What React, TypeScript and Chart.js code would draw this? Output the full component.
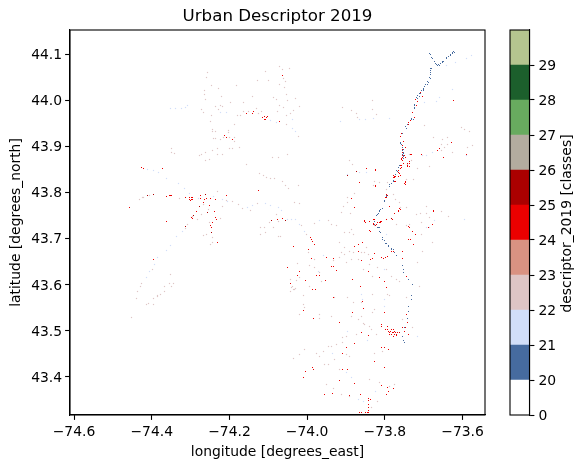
import React, { useEffect, useRef } from "react";
import { Chart, registerables } from "chart.js";
Chart.register(...registerables);

type P = [number, number];
const FONT = "'DejaVu Sans'";
const titleText = "Urban Descriptor 2019";
const xLabel = "longitude [degrees_east]";
const yLabel = "latitude [degrees_north]";
const cbLabel = "descriptor_2019 [classes]";
const lonTicks = [-74.6, -74.4, -74.2, -74.0, -73.8, -73.6];
const latTicks = [43.4, 43.5, 43.6, 43.7, 43.8, 43.9, 44.0, 44.1];
const lonRange = [-74.6103, -73.5423];
const latRange = [43.3165, 44.1523];
const classLabels = ["0", "20", "21", "22", "23", "24", "25", "26", "27", "28", "29"];
const classColors = ["#ffffff", "#466b9f", "#d1def8", "#dec5c5", "#d99282", "#eb0000", "#ab0000", "#b3ac9f", "#68ab5f", "#1c5f2c", "#b5c58f"];

const class20: P[] = [[-73.623,44.106],[-73.627,44.103],[-73.631,44.100],[-73.636,44.095],[-73.642,44.092],[-73.652,44.085],[-73.657,44.080],[-73.663,44.078],[-73.668,44.078],[-73.671,44.083],[-73.679,44.093],[-73.684,44.101],[-73.683,44.069],[-73.683,44.060],[-73.685,44.049],[-73.690,44.041],[-73.695,44.035],[-73.701,44.025],[-73.705,44.020],[-73.711,44.014],[-73.715,44.011],[-73.718,44.006],[-73.724,43.991],[-73.725,43.983],[-73.731,43.960],[-73.741,43.948],[-73.746,43.942],[-73.760,43.908],[-73.754,43.897],[-73.754,43.890],[-73.754,43.882],[-73.754,43.875],[-73.762,43.859],[-73.766,43.853],[-73.771,43.848],[-73.779,43.824],[-73.783,43.819],[-73.789,43.812],[-73.797,43.792],[-73.801,43.782],[-73.812,43.763],[-73.815,43.758],[-73.819,43.752],[-73.815,43.723],[-73.826,43.730],[-73.818,43.723],[-73.812,43.712],[-73.805,43.698],[-73.798,43.689],[-73.791,43.682],[-73.784,43.675],[-73.775,43.669],[-73.769,43.663],[-73.755,43.642],[-73.751,43.633],[-73.751,43.625],[-73.738,43.611],[-73.730,43.600],[-73.731,43.576],[-73.731,43.567],[-73.738,43.551],[-73.739,43.542],[-73.743,43.527],[-73.743,43.517],[-73.749,43.506],[-73.755,43.488],[-73.752,43.479],[-73.749,43.474],[-73.682,44.099],[-73.678,44.090],[-73.669,44.080],[-73.665,44.076],[-73.660,44.076],[-73.652,44.082],[-73.650,44.085],[-73.641,44.090],[-73.631,44.098],[-73.626,44.101],[-73.621,44.104],[-73.680,44.069],[-73.682,44.065],[-73.682,44.056],[-73.682,44.047],[-73.687,44.038],[-73.690,44.035],[-73.697,44.029],[-73.701,44.024],[-73.701,44.020],[-73.708,44.014],[-73.712,44.009],[-73.716,44.004],[-73.724,43.989],[-73.724,43.982],[-73.732,43.957],[-73.727,43.959],[-73.744,43.939],[-73.754,43.927],[-73.760,43.906],[-73.757,43.904],[-73.753,43.892],[-73.753,43.887],[-73.753,43.884],[-73.753,43.880],[-73.753,43.877],[-73.753,43.873],[-73.767,43.845],[-73.772,43.839],[-73.777,43.826],[-73.783,43.819],[-73.787,43.816],[-73.797,43.790],[-73.800,43.779],[-73.806,43.765],[-73.813,43.760],[-73.817,43.754],[-73.821,43.749],[-73.826,43.736],[-73.821,43.729],[-73.817,43.723],[-73.813,43.714],[-73.806,43.702],[-73.800,43.695],[-73.796,43.689],[-73.790,43.684],[-73.783,43.678],[-73.777,43.675]];

const class21: P[] = [[-73.914,43.954],[-73.865,43.959],[-73.849,43.958],[-73.830,43.960],[-73.788,43.961],[-73.698,43.995],[-73.668,43.997],[-73.617,44.082],[-73.642,44.075],[-73.577,44.098],[-73.589,44.091],[-73.625,44.024],[-73.659,44.006],[-73.692,43.879],[-73.702,43.880],[-73.677,43.886],[-73.591,43.880],[-73.865,43.844],[-73.848,43.843],[-73.895,43.839],[-73.595,43.741],[-73.692,43.723],[-74.313,43.985],[-74.308,43.988],[-74.352,43.982],[-74.339,43.982],[-74.324,43.982],[-74.224,43.973],[-74.208,43.973],[-74.095,43.956],[-74.080,43.952],[-74.037,43.957],[-74.037,43.938],[-74.030,43.932],[-74.412,43.850],[-74.395,43.847],[-74.382,43.843],[-74.361,43.830],[-74.331,43.819],[-74.315,43.808],[-74.302,43.797],[-74.279,43.786],[-74.241,43.790],[-74.219,43.784],[-74.205,43.779],[-74.154,43.767],[-74.140,43.772],[-74.106,43.775],[-74.095,43.771],[-74.074,43.767],[-74.066,43.761],[-74.051,43.741],[-74.040,43.740],[-74.031,43.740],[-74.322,43.715],[-74.337,43.703],[-74.352,43.685],[-74.361,43.674],[-74.386,43.659],[-74.392,43.643],[-74.405,43.628],[-74.414,43.616],[-74.019,43.730],[-74.006,43.714],[-73.967,43.738],[-73.959,43.662],[-73.972,43.629],[-73.861,43.578],[-73.858,43.567],[-73.801,43.567],[-73.801,43.553],[-73.895,43.498],[-73.844,43.479],[-73.935,43.451],[-73.899,43.408],[-73.886,43.397],[-73.869,43.350],[-73.824,43.368],[-73.856,43.346],[-73.801,43.633],[-73.796,43.709],[-73.715,43.488],[-73.685,43.723],[-73.672,43.738]];

const class22: P[] = [[-74.256,44.059],[-74.258,44.049],[-74.246,44.032],[-74.264,44.022],[-74.264,44.012],[-74.261,44.001],[-74.220,44.007],[-74.228,44.025],[-74.182,44.032],[-74.141,44.009],[-74.128,44.042],[-74.107,44.062],[-74.100,44.043],[-74.072,44.073],[-74.064,44.067],[-74.046,44.069],[-74.061,44.047],[-74.055,44.041],[-74.072,44.035],[-74.059,44.027],[-74.054,44.013],[-74.031,44.004],[-74.051,44.000],[-74.086,44.006],[-74.080,44.002],[-74.070,43.989],[-74.061,43.985],[-74.076,43.975],[-74.034,43.977],[-74.044,43.970],[-74.053,43.966],[-74.020,43.986],[-74.054,43.947],[-74.023,43.921],[-74.164,43.995],[-74.197,43.995],[-74.236,43.986],[-74.224,43.988],[-74.217,43.986],[-74.228,43.980],[-74.271,43.979],[-74.266,43.973],[-74.247,43.967],[-74.249,43.954],[-74.178,43.966],[-74.172,43.967],[-74.164,43.975],[-74.151,43.975],[-74.131,43.982],[-74.118,43.975],[-74.124,43.970],[-74.188,43.947],[-74.244,43.937],[-74.236,43.932],[-74.243,43.932],[-74.202,43.935],[-74.202,43.930],[-74.242,43.917],[-74.236,43.917],[-74.223,43.915],[-74.215,43.919],[-74.200,43.919],[-74.187,43.918],[-74.187,43.910],[-74.349,43.895],[-74.349,43.887],[-74.341,43.884],[-74.277,43.880],[-74.273,43.883],[-74.262,43.886],[-74.262,43.869],[-74.251,43.872],[-74.243,43.890],[-74.231,43.895],[-74.231,43.882],[-74.218,43.882],[-74.201,43.895],[-74.191,43.896],[-74.174,43.897],[-74.157,43.860],[-74.089,43.875],[-74.074,43.875],[-74.051,43.882],[-74.123,43.840],[-74.113,43.836],[-74.104,43.832],[-74.095,43.830],[-74.085,43.830],[-74.064,43.824],[-74.055,43.814],[-74.048,43.808],[-74.021,43.815],[-74.033,43.777],[-74.020,43.775],[-74.431,43.784],[-74.425,43.788],[-74.420,43.788],[-74.405,43.793],[-74.329,43.786],[-74.230,43.801],[-74.267,43.774],[-74.254,43.763],[-74.273,43.752],[-74.296,43.748],[-74.282,43.741],[-74.307,43.730],[-74.313,43.722],[-74.251,43.735],[-74.224,43.743],[-74.217,43.770],[-74.208,43.783],[-74.192,43.779],[-74.177,43.773],[-74.166,43.765],[-74.128,43.775],[-74.146,43.761],[-74.078,43.752],[-74.074,43.737],[-74.097,43.735],[-74.087,43.724],[-74.111,43.723],[-74.119,43.723],[-74.108,43.712],[-74.119,43.708],[-74.074,43.705],[-74.068,43.703],[-74.266,43.707],[-74.258,43.708],[-74.244,43.701],[-74.243,43.692],[-74.249,43.686],[-74.025,43.645],[-74.044,43.611],[-74.027,43.609],[-74.038,43.595],[-74.029,43.592],[-74.035,43.589],[-74.043,43.585],[-74.351,43.621],[-74.354,43.601],[-74.343,43.601],[-74.349,43.596],[-74.367,43.595],[-74.366,43.585],[-74.377,43.579],[-74.384,43.576],[-74.426,43.601],[-74.429,43.596],[-74.437,43.584],[-74.440,43.569],[-74.396,43.569],[-74.386,43.573],[-74.414,43.556],[-74.408,43.558],[-74.396,43.556],[-74.451,43.529],[-74.399,43.632],[-73.909,43.985],[-73.886,43.978],[-73.833,43.999],[-73.833,43.980],[-73.873,43.972],[-73.822,43.969],[-73.871,43.962],[-73.697,43.946],[-73.604,43.941],[-73.595,43.937],[-73.583,43.933],[-73.674,43.920],[-73.651,43.915],[-73.638,43.919],[-73.655,43.904],[-73.638,43.904],[-73.587,43.897],[-73.574,43.901],[-73.647,43.897],[-73.655,43.890],[-73.625,43.886],[-73.736,43.882],[-73.741,43.861],[-73.732,43.868],[-73.715,43.851],[-73.685,43.857],[-73.892,43.868],[-73.884,43.861],[-73.826,43.823],[-73.813,43.822],[-73.792,43.822],[-73.745,43.828],[-73.726,43.828],[-73.830,43.814],[-73.796,43.806],[-73.878,43.798],[-73.895,43.788],[-73.897,43.777],[-73.907,43.769],[-73.912,43.756],[-73.889,43.753],[-73.779,43.795],[-73.772,43.784],[-73.762,43.777],[-73.760,43.766],[-73.745,43.766],[-73.692,43.770],[-73.692,43.755],[-73.718,43.752],[-73.708,43.754],[-73.685,43.745],[-73.655,43.759],[-73.636,43.748],[-73.706,43.735],[-73.783,43.742],[-73.771,43.730],[-73.826,43.727],[-73.745,43.727],[-73.796,43.741],[-74.040,43.593],[-74.032,43.589],[-74.010,43.575],[-74.010,43.556],[-74.019,43.535],[-73.980,43.636],[-73.967,43.625],[-73.980,43.733],[-73.997,43.669],[-73.938,43.730],[-73.903,43.712],[-73.882,43.709],[-73.912,43.669],[-73.933,43.651],[-73.899,43.647],[-73.852,43.669],[-73.839,43.643],[-73.895,43.571],[-73.929,43.571],[-73.882,43.560],[-73.938,43.531],[-73.967,43.525],[-73.861,43.531],[-73.831,43.538],[-73.856,43.516],[-73.839,43.509],[-73.908,43.484],[-73.908,43.473],[-73.938,43.466],[-73.959,43.455],[-73.976,43.451],[-74.006,43.459],[-74.019,43.448],[-74.036,43.440],[-73.946,43.426],[-73.899,43.448],[-73.916,43.415],[-73.950,43.382],[-73.933,43.375],[-73.912,43.361],[-73.890,43.357],[-73.839,43.393],[-73.814,43.386],[-73.818,43.346],[-73.788,43.379],[-73.775,43.382],[-73.826,43.451],[-73.805,43.455],[-73.754,43.524],[-73.728,43.506],[-73.788,43.575],[-73.826,43.546],[-73.771,43.611],[-73.745,43.571],[-73.711,43.596],[-73.715,43.647],[-73.702,43.672],[-73.677,43.691],[-73.737,43.730],[-73.707,43.709],[-73.835,43.332],[-74.014,43.727],[-74.002,43.709],[-73.946,43.738],[-73.925,43.727],[-73.890,43.712],[-73.886,43.720],[-73.916,43.691],[-73.903,43.680],[-73.890,43.672],[-73.880,43.669],[-73.861,43.669],[-73.848,43.680],[-73.843,43.665],[-73.916,43.658],[-73.903,43.665],[-73.886,43.654],[-73.869,43.654],[-73.856,43.633],[-73.831,43.618],[-73.818,43.636],[-73.796,43.633],[-73.784,43.618],[-73.762,43.607],[-73.792,43.578],[-73.831,43.578],[-73.861,43.560],[-73.886,43.531],[-73.869,43.524],[-73.852,43.513],[-73.835,43.502],[-73.822,43.491],[-73.873,43.491],[-73.899,43.488],[-73.925,43.469],[-73.946,43.466],[-73.967,43.444],[-73.955,43.426],[-73.929,43.437],[-73.890,43.444],[-73.980,43.654],[-73.963,43.607],[-73.993,43.596],[-74.006,43.549],[-73.967,43.535],[-74.019,43.614],[-73.993,43.640]];

const class24: P[] = [[-73.991,43.701],[-73.988,43.698],[-73.985,43.694],[-73.981,43.687],[-74.036,43.682],[-73.997,43.675],[-73.989,43.656],[-73.976,43.620],[-73.967,43.620],[-73.952,43.609],[-74.003,43.609],[-74.020,43.628],[-73.986,43.588],[-73.978,43.588],[-73.938,43.638],[-73.933,43.638],[-73.925,43.631],[-73.931,43.656],[-73.950,43.658],[-73.884,43.611],[-73.878,43.682],[-73.867,43.687],[-73.858,43.692],[-73.869,43.672],[-73.861,43.651],[-73.841,43.628],[-73.838,43.653],[-73.831,43.656],[-73.826,43.667],[-73.852,43.738],[-73.839,43.716],[-73.809,43.658],[-73.803,43.656],[-73.798,43.658],[-73.792,43.660],[-73.784,43.672],[-73.778,43.672],[-73.755,43.672],[-73.754,43.656],[-73.745,43.617],[-73.814,43.614],[-73.801,43.607],[-73.796,43.593],[-73.862,43.596],[-73.933,43.571],[-74.010,43.544],[-73.983,43.527],[-73.916,43.517],[-73.884,43.538],[-73.855,43.547],[-73.858,43.562],[-73.802,43.540],[-73.745,43.535],[-73.741,43.517],[-73.861,43.495],[-73.841,43.490],[-73.879,43.472],[-73.899,43.462],[-73.908,43.451],[-73.809,43.462],[-73.801,43.462],[-73.790,43.459],[-73.826,43.432],[-73.802,43.419],[-73.895,43.416],[-73.908,43.415],[-73.985,43.419],[-73.983,43.415],[-74.003,43.410],[-74.010,43.397],[-73.916,43.391],[-73.879,43.385],[-73.956,43.361],[-73.936,43.364],[-73.892,43.358],[-73.862,43.361],[-73.809,43.381],[-73.792,43.377],[-73.779,43.375],[-73.790,43.368],[-73.795,43.362],[-73.841,43.353],[-73.841,43.347],[-73.841,43.340],[-73.841,43.333],[-73.841,43.326],[-73.841,43.322],[-73.837,43.350],[-73.865,43.323],[-73.861,43.323],[-73.850,43.321],[-73.844,43.321],[-73.809,43.513],[-73.809,43.509],[-73.792,43.502],[-73.784,43.502],[-73.775,43.498],[-73.788,43.495],[-73.779,43.495],[-73.771,43.491],[-73.762,43.495],[-73.788,43.491],[-73.779,43.488],[-73.767,43.496],[-73.792,43.509],[-73.798,43.502],[-73.738,43.491],[-73.754,43.506],[-73.747,43.506],[-73.749,43.498],[-73.769,43.489],[-73.785,43.498],[-73.778,43.502],[-73.784,43.491],[-73.775,43.491],[-73.772,43.495],[-73.790,43.498],[-73.781,43.496],[-73.623,43.999],[-73.721,44.001],[-73.715,43.998],[-73.702,44.008],[-73.709,44.017],[-73.718,43.989],[-73.728,43.973],[-73.724,43.962],[-73.735,43.955],[-73.738,43.951],[-73.738,43.947],[-73.756,43.928],[-73.760,43.921],[-73.752,43.911],[-73.754,43.901],[-73.747,43.897],[-73.754,43.893],[-73.754,43.887],[-73.754,43.880],[-73.754,43.875],[-73.754,43.869],[-73.628,43.908],[-73.659,43.895],[-73.665,43.890],[-73.705,43.882],[-73.648,43.875],[-73.589,43.882],[-73.734,43.881],[-73.749,43.879],[-73.756,43.872],[-73.741,43.862],[-73.736,43.866],[-73.741,43.857],[-73.759,43.859],[-73.758,43.853],[-73.764,43.848],[-73.766,43.843],[-73.762,43.840],[-73.772,43.835],[-73.777,43.837],[-73.775,43.832],[-73.747,43.824],[-73.749,43.819],[-73.775,43.824],[-73.848,43.851],[-73.824,43.849],[-73.865,43.821],[-73.824,43.815],[-73.796,43.795],[-73.799,43.788],[-73.887,43.787],[-73.879,43.766],[-73.762,43.764],[-73.766,43.761],[-73.774,43.755],[-73.789,43.769],[-73.674,43.760],[-73.852,43.737],[-73.850,43.734],[-73.839,43.736],[-73.828,43.741],[-73.829,43.732],[-73.824,43.728],[-73.818,43.734],[-73.812,43.735],[-73.809,43.737],[-73.738,43.725],[-74.064,44.053],[-74.138,43.975],[-74.141,43.972],[-74.155,43.971],[-74.114,43.962],[-74.110,43.964],[-74.110,43.959],[-74.107,43.959],[-74.104,43.962],[-74.102,43.964],[-74.072,43.954],[-74.213,43.923],[-74.207,43.919],[-74.192,43.914],[-74.426,43.853],[-74.420,43.851],[-74.372,43.851],[-74.456,43.767],[-74.361,43.790],[-74.354,43.792],[-74.352,43.793],[-74.349,43.793],[-74.125,43.803],[-74.302,43.788],[-74.298,43.788],[-74.294,43.788],[-74.302,43.785],[-74.298,43.785],[-74.294,43.785],[-74.300,43.783],[-74.313,43.788],[-74.274,43.793],[-74.274,43.786],[-74.258,43.786],[-74.264,43.784],[-74.249,43.786],[-74.236,43.784],[-74.267,43.777],[-74.251,43.771],[-74.208,43.793],[-74.284,43.758],[-74.298,43.745],[-74.295,43.743],[-74.238,43.758],[-74.236,43.745],[-74.233,43.740],[-74.243,43.734],[-74.249,43.728],[-74.246,43.723],[-74.230,43.690],[-74.361,43.736],[-74.395,43.653],[-74.077,43.740],[-74.064,43.743],[-74.036,43.682],[-74.051,43.636],[-74.020,43.627],[-74.025,43.619],[-74.043,43.603],[-73.735,43.881],[-73.731,43.881],[-73.748,43.876],[-73.757,43.873],[-73.753,43.863],[-73.757,43.859],[-73.761,43.852],[-73.766,43.842],[-73.761,43.837],[-73.766,43.835],[-73.774,43.835],[-73.778,43.832],[-73.772,43.823],[-73.748,43.821],[-73.748,43.817],[-73.737,43.863],[-73.742,43.859],[-73.736,43.857],[-73.794,43.794],[-73.796,43.789],[-73.823,43.847],[-73.823,43.813],[-73.774,43.754],[-73.766,43.759],[-73.760,43.763],[-73.826,43.741],[-73.830,43.740],[-73.837,43.714],[-73.821,43.731],[-73.813,43.734],[-73.810,43.736],[-73.796,43.740],[-73.828,43.729],[-73.780,43.741],[-73.737,43.724],[-73.729,43.714],[-73.720,43.709],[-73.740,43.698],[-73.734,43.698],[-73.727,43.687],[-73.688,43.723],[-73.678,43.729],[-73.674,43.758]];

const class25: P[] = [[-74.395,43.795],[-74.410,43.793],[-74.313,43.725],[-74.292,43.749],[-74.277,43.769],[-74.092,43.738],[-74.261,43.795],[-74.256,43.756],[-74.246,43.712],[-74.055,43.738],[-73.897,43.837],[-73.872,43.845],[-73.782,43.742]];

const snapPlugin = {
  id: "snap",
  afterDatasetsUpdate(chart: any) {
    chart.data.datasets.forEach((_: any, i: number) => {
      chart.getDatasetMeta(i).data.forEach((el: any) => {
        el.x = Math.floor(el.x) + 0.5;
        el.y = Math.floor(el.y) + 0.5;
      });
    });
  },
};

const framePlugin = {
  id: "frame",
  afterDraw(chart: any) {
    const { left, right, top, bottom } = chart.chartArea;
    const c = chart.ctx;
    c.save();
    c.strokeStyle = "#000";
    c.lineWidth = 1.1;
    c.strokeRect(left, top, right - left, bottom - top);
    c.restore();
  },
};

const titlePlugin = {
  id: "figTitle",
  afterDraw(chart: any) {
    const c = chart.ctx;
    const { left, right } = chart.chartArea;
    c.save();
    c.font = `16.67px ${FONT}`;
    c.fillStyle = "#000";
    c.textAlign = "center";
    c.textBaseline = "alphabetic";
    c.fillText(titleText, (left + right) / 2, 21);
    c.restore();
  },
};

const cbTitlePlugin = {
  id: "cbTitle",
  afterDraw(chart: any) {
    const c = chart.ctx;
    const { top, bottom } = chart.chartArea;
    c.save();
    c.translate(567, (top + bottom) / 2 + 1);
    c.rotate(-Math.PI / 2);
    c.font = `13.9px ${FONT}`;
    c.fillStyle = "#000";
    c.textAlign = "center";
    c.textBaseline = "middle";
    c.fillText(cbLabel, 0, 0);
    c.restore();
  },
};

const fmt = (v: number, d: number) => v.toFixed(d).replace("-", "\u2212");
const tickFont = { family: FONT, size: 13.9 };
const spot = (d: P[], color: string, r: number) => ({
  data: d.map(([x, y]) => ({ x, y })),
  backgroundColor: color,
  borderWidth: 0,
  pointRadius: r,
  pointStyle: "rect" as const,
  pointBorderWidth: 0,
});
const axisLook = {
  grid: { drawOnChartArea: false, drawTicks: true, tickLength: 4.9, tickColor: "#000", tickWidth: 1.1 },
  border: { display: true, color: "#000", width: 1.1 },
};

export default function App() {
  const mainRef = useRef<HTMLCanvasElement>(null);
  const barRef = useRef<HTMLCanvasElement>(null);

  useEffect(() => {
    document.body.style.margin = "0";
    const main = new Chart(mainRef.current!, {
      type: "scatter",
      data: {
        datasets: [
          spot(class24, classColors[5], 0.75),
          spot(class25, classColors[6], 0.75),
          spot(class20, classColors[1], 0.75),
          spot(class21, classColors[2], 0.85),
          spot(class22, classColors[3], 0.85),
        ],
      },
      options: {
        animation: false,
        responsive: false,
        devicePixelRatio: 1,
        layout: { padding: { right: 101, left: 0, top: 30, bottom: 0 } },
        plugins: {
          legend: { display: false },
          tooltip: { enabled: false },
          title: { display: false },
        },
        scales: {
          x: {
            type: "linear",
            min: lonRange[0],
            max: lonRange[1],
            ...axisLook,
            afterBuildTicks: (s: any) => { s.ticks = lonTicks.map((value) => ({ value })); },
            afterFit: (s: any) => { s.height = 53; },
            ticks: { color: "#000", font: tickFont, padding: 4, maxRotation: 0, autoSkip: false, callback: (v: any) => fmt(Number(v), 1) },
            title: { display: true, text: xLabel, color: "#000", font: tickFont, padding: { top: 2, bottom: 7 } },
          },
          y: {
            type: "linear",
            min: latRange[0],
            max: latRange[1],
            ...axisLook,
            afterBuildTicks: (s: any) => { s.ticks = latTicks.map((value) => ({ value })); },
            afterFit: (s: any) => { s.width = 70; },
            ticks: { color: "#000", font: tickFont, padding: 3, labelOffset: 1.5, autoSkip: false, callback: (v: any) => fmt(Number(v), 1) },
            title: { display: true, text: yLabel, color: "#000", font: tickFont, padding: { top: 8, bottom: 2 } },
          },
        },
      },
      plugins: [snapPlugin, framePlugin, titlePlugin],
    } as any);

    const bar = new Chart(barRef.current!, {
      type: "bar",
      data: {
        labels: ["classes"],
        datasets: classLabels.map((_, i) => ({
          data: [1],
          backgroundColor: classColors[i],
          borderWidth: 0,
          barPercentage: 1,
          categoryPercentage: 1,
          stack: "cb",
        })),
      },
      options: {
        animation: false,
        responsive: false,
        devicePixelRatio: 1,
        layout: { padding: { left: 510, right: 0, top: 30, bottom: 53 } },
        plugins: { legend: { display: false }, tooltip: { enabled: false } },
        scales: {
          x: { display: false, stacked: true },
          y: {
            type: "linear",
            position: "right",
            stacked: true,
            min: 0,
            max: classLabels.length,
            ...axisLook,
            afterBuildTicks: (s: any) => { s.ticks = classLabels.map((_, i) => ({ value: i })); },
            afterFit: (s: any) => { s.width = 56.5; },
            ticks: { color: "#000", font: tickFont, padding: 4, labelOffset: 1.5, autoSkip: false, callback: (_: any, i: number) => classLabels[i] },
          },
        },
      },
      plugins: [framePlugin, cbTitlePlugin],
    } as any);

    return () => {
      main.destroy();
      bar.destroy();
    };
  }, []);

  const abs: React.CSSProperties = { position: "absolute", left: 0, top: 0, width: 586, height: 468 };
  return (
    <div style={{ position: "relative", width: 586, height: 468, background: "#fff" }}>
      <canvas ref={mainRef} width={586} height={468} style={abs} />
      <canvas ref={barRef} width={586} height={468} style={abs} />
    </div>
  );
}
